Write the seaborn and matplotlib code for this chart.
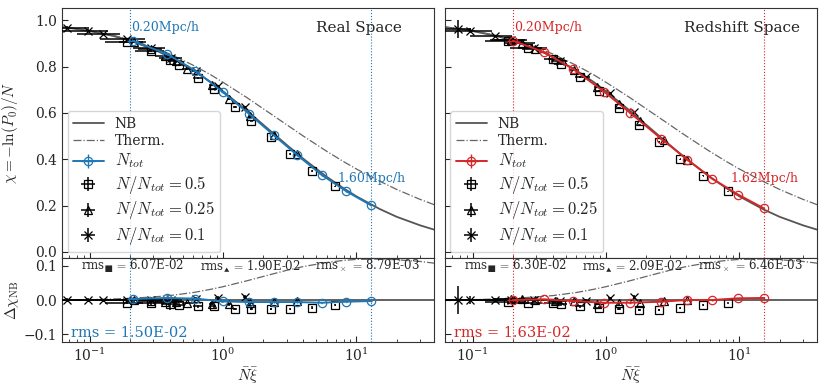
import numpy as np
import matplotlib
matplotlib.use('Agg')
import matplotlib.pyplot as plt
import seaborn as sns

# -------------------------
# model curves
# -------------------------
model_x = [0.06, 0.08, 0.1, 0.15, 0.2, 0.3, 0.4, 0.6, 0.8, 1.0, 1.5, 2, 3, 4,
           6, 8, 10, 15, 20, 30, 40]
nb_chi = [0.971, 0.962, 0.953, 0.932, 0.912, 0.875, 0.841, 0.783, 0.735, 0.693,
          0.611, 0.549, 0.462, 0.402, 0.324, 0.275, 0.240, 0.185, 0.152, 0.115, 0.093]
therm_chi = [0.972, 0.963, 0.955, 0.935, 0.916, 0.883, 0.854, 0.805, 0.766, 0.732,
             0.667, 0.618, 0.549, 0.500, 0.434, 0.390, 0.358, 0.305, 0.270, 0.227, 0.200]
therm_res = [0.001, 0.001, 0.001, 0.003, 0.005, 0.009, 0.013, 0.022, 0.031, 0.039,
             0.056, 0.069, 0.087, 0.098, 0.110, 0.116, 0.119, 0.120, 0.118, 0.113, 0.107]

# -------------------------
# Real space measurements
# -------------------------
real_tot_x = [0.21, 0.38, 0.62, 1.0, 1.56, 2.4, 3.6, 5.5, 8.4, 12.9]
real_tot_chi = [0.911, 0.854, 0.782, 0.689, 0.597, 0.504, 0.418, 0.332, 0.262, 0.201]
real_tot_res = [0.003, 0.006, 0.004, -0.004, -0.006, -0.006, -0.006, -0.008, -0.005, -0.003]
real_tot_xerr = [0.02, 0.02, 0.02, 0.03, 0.03, 0.04, 0.05, 0.06, 0.08, 0.1]
real_tot_yerr = [0.002, 0.002, 0.002, 0.002, 0.002, 0.002, 0.002, 0.002, 0.002, 0.002]

real_h_x = [0.19, 0.29, 0.40, 0.47, 0.65, 0.85, 1.23, 1.63, 2.27, 3.2, 4.65, 6.95]
real_h_chi = [0.908, 0.868, 0.828, 0.805, 0.752, 0.705, 0.626, 0.566, 0.495, 0.422, 0.350, 0.283]
real_h_res = [-0.008, -0.010, -0.013, -0.015, -0.018, -0.019, -0.026, -0.027, -0.027,
              -0.026, -0.022, -0.015]
real_h_xerr = [0.06, 0.07, 0.06, 0.05, 0.05, 0.04, 0.04, 0.04, 0.04, 0.04, 0.04, 0.04]
real_h_yerr = [0.004, 0.004, 0.015, 0.004, 0.004, 0.004, 0.003, 0.003, 0.003, 0.003, 0.003, 0.003]

real_q_x = [0.215, 0.29, 0.37, 0.44, 0.54, 0.82, 1.11, 1.6, 2.4, 3.6]
real_q_chi = [0.905, 0.875, 0.845, 0.822, 0.791, 0.719, 0.660, 0.587, 0.504, 0.421]
real_q_res = [-0.001, -0.003, -0.006, -0.007, -0.009, -0.011, -0.013, -0.010, -0.006, -0.003]
real_q_xerr = [0.05, 0.06, 0.06, 0.05, 0.05, 0.04, 0.04, 0.04, 0.04, 0.04]
real_q_yerr = [0.005, 0.005, 0.005, 0.005, 0.004, 0.004, 0.004, 0.004, 0.004, 0.004]

real_t_x = [0.068, 0.097, 0.125, 0.19, 0.29, 0.41, 0.63, 0.91, 1.45]
real_t_chi = [0.968, 0.955, 0.941, 0.917, 0.878, 0.838, 0.779, 0.717, 0.627]
real_t_res = [0.000, 0.000, -0.001, 0.001, 0.000, 0.000, 0.003, 0.006, 0.009]
real_t_xerr = [0.03, 0.04, 0.045, 0.07, 0.08, 0.08, 0.05, 0.04, 0.03]
real_t_yerr = [0.006, 0.005, 0.005, 0.005, 0.005, 0.005, 0.005, 0.005, 0.005]

# -------------------------
# Redshift space measurements
# -------------------------
red_tot_x = [0.20, 0.34, 0.565, 0.966, 1.52, 2.59, 4.06, 6.28, 9.76, 15.3]
red_tot_chi = [0.912, 0.863, 0.790, 0.692, 0.600, 0.489, 0.399, 0.316, 0.248, 0.188]
red_tot_res = [0.000, 0.002, -0.003, -0.008, -0.008, -0.005, 0.000, 0.000, 0.005, 0.006]
red_tot_xerr = [0.02, 0.02, 0.02, 0.03, 0.03, 0.04, 0.05, 0.06, 0.08, 0.1]
red_tot_yerr = [0.002, 0.002, 0.002, 0.002, 0.002, 0.002, 0.002, 0.002, 0.002, 0.002]

red_h_x = [0.184, 0.26, 0.40, 0.46, 0.635, 0.887, 1.25, 1.78, 2.48, 3.61, 5.37, 8.2]
red_h_chi = [0.912, 0.881, 0.831, 0.810, 0.756, 0.693, 0.623, 0.546, 0.475, 0.400, 0.330, 0.261]
red_h_res = [-0.006, -0.008, -0.010, -0.013, -0.018, -0.023, -0.026, -0.028, -0.028,
             -0.023, -0.015, -0.010]
red_h_xerr = [0.06, 0.07, 0.06, 0.05, 0.05, 0.04, 0.04, 0.04, 0.04, 0.04, 0.04, 0.04]
red_h_yerr = [0.004, 0.004, 0.006, 0.004, 0.004, 0.004, 0.003, 0.003, 0.003, 0.003, 0.003, 0.003]

red_q_x = [0.195, 0.236, 0.293, 0.415, 0.578, 0.849, 1.25, 1.80, 2.70, 4.06]
red_q_chi = [0.916, 0.902, 0.877, 0.833, 0.785, 0.713, 0.639, 0.564, 0.482, 0.399]
red_q_res = [0.002, 0.004, 0.000, -0.003, -0.004, -0.011, -0.010, -0.008, -0.003, 0.000]
red_q_xerr = [0.05, 0.06, 0.06, 0.05, 0.05, 0.04, 0.04, 0.04, 0.04, 0.04]
red_q_yerr = [0.005, 0.005, 0.005, 0.005, 0.004, 0.004, 0.004, 0.004, 0.004, 0.004]

red_t_x = [0.078, 0.095, 0.146, 0.195, 0.29, 0.45, 0.71, 1.07, 1.61]
red_t_chi = [0.963, 0.955, 0.933, 0.915, 0.879, 0.823, 0.753, 0.685, 0.605]
red_t_res = [0.000, 0.000, 0.000, 0.001, 0.001, -0.003, -0.003, 0.005, 0.009]
red_t_xerr = [0.02, 0.045, 0.05, 0.06, 0.07, 0.06, 0.05, 0.04, 0.03]
red_t_yerr = [0.04, 0.012, 0.005, 0.005, 0.005, 0.005, 0.005, 0.005, 0.005]

# scale markers and rms labels
panels = [
    dict(name="Real Space", color="tab:blue", scale_lo=0.2, scale_hi=12.9,
         lo_label="0.20Mpc/h", hi_label="1.60Mpc/h",
         rms=["6.07E-02", "1.90E-02", "8.79E-03"], rms_tot="1.50E-02",
         tot=(real_tot_x, real_tot_chi, real_tot_res, real_tot_xerr, real_tot_yerr),
         half=(real_h_x, real_h_chi, real_h_res, real_h_xerr, real_h_yerr),
         quarter=(real_q_x, real_q_chi, real_q_res, real_q_xerr, real_q_yerr),
         tenth=(real_t_x, real_t_chi, real_t_res, real_t_xerr, real_t_yerr)),
    dict(name="Redshift Space", color="tab:red", scale_lo=0.2, scale_hi=15.3,
         lo_label="0.20Mpc/h", hi_label="1.62Mpc/h",
         rms=["6.30E-02", "2.09E-02", "6.46E-03"], rms_tot="1.63E-02",
         tot=(red_tot_x, red_tot_chi, red_tot_res, red_tot_xerr, red_tot_yerr),
         half=(red_h_x, red_h_chi, red_h_res, red_h_xerr, red_h_yerr),
         quarter=(red_q_x, red_q_chi, red_q_res, red_q_xerr, red_q_yerr),
         tenth=(red_t_x, red_t_chi, red_t_res, red_t_xerr, red_t_yerr)),
]

# -------------------------
# Plotting
# -------------------------
sns.set_style("ticks")
plt.rcParams['font.family'] = ['DejaVu Serif']
plt.rcParams['mathtext.fontset'] = 'cm'
plt.rcParams['font.size'] = 10
plt.rcParams['xtick.direction'] = 'in'
plt.rcParams['ytick.direction'] = 'in'
plt.rcParams['axes.edgecolor'] = '#333333'

fig, axes = plt.subplots(2, 2, figsize=(8.3, 3.88), dpi=100, sharex=True, sharey='row',
                         gridspec_kw=dict(height_ratios=[250, 84]))
fig.subplots_adjust(left=0.0747, right=0.984, top=0.979, bottom=0.1186,
                    hspace=0, wspace=0.03)

markers = [("half", "s", r"$N/N_{tot}=0.5$"),
           ("quarter", "^", r"$N/N_{tot}=0.25$"),
           ("tenth", "x", r"$N/N_{tot}=0.1$")]

for col, p in enumerate(panels):
    ax, rax = axes[0, col], axes[1, col]
    c = p["color"]
    for a in (ax, rax):
        a.set_xscale('log')
        a.axvline(p["scale_lo"], color=c, ls=':', lw=0.8)
        a.axvline(p["scale_hi"], color=c, ls=':', lw=0.8)

    sns.lineplot(x=model_x, y=nb_chi, ax=ax, color='#555555', lw=1.3, label="NB")
    sns.lineplot(x=model_x, y=therm_chi, ax=ax, color='#666666', lw=0.9, ls='-.',
                 label="Therm.")
    rax.axhline(0, color='#555555', lw=1.3)
    sns.lineplot(x=model_x, y=therm_res, ax=rax, color='#666666', lw=0.9, ls='-.')

    x, y, r, xe, ye = p["tot"]
    ax.errorbar(x, y, xerr=xe, yerr=ye, fmt='o-', color=c, mfc='none', ms=6, mew=0.9,
                lw=1.4, elinewidth=1, capsize=0, label=r"$N_{tot}$", zorder=4)
    rax.errorbar(x, r, xerr=xe, yerr=ye, fmt='o-', color=c, mfc='none', ms=6, mew=0.9,
                 lw=1.4, elinewidth=1, capsize=0, zorder=4)

    for key, m, lab in markers:
        x, y, r, xe, ye = p[key]
        kw = dict(fmt=m, mfc='none', mec='k', ecolor='k', ms=6, mew=0.9,
                  elinewidth=1.1, capsize=0, zorder=3)
        ax.errorbar(x, y, xerr=xe, yerr=ye, label=lab, **kw)
        rax.errorbar(x, r, xerr=xe, yerr=ye, **kw)

    ax.text(p["scale_lo"] * 1.03, 0.97, p["lo_label"], color=c, fontsize=9,
            ha='left', va='center')
    ax.text(p["scale_hi"], 0.315, p["hi_label"], color=c, fontsize=9,
            ha='center', va='center')
    ax.text(0.8, 0.92, p["name"], transform=ax.transAxes, fontsize=11,
            ha='center', va='center')

    h, l = ax.get_legend_handles_labels()
    order = [l.index(s) for s in ["NB", "Therm.", r"$N_{tot}$"] + [m[2] for m in markers]]
    leg = ax.legend([h[i] for i in order], [l[i] for i in order], loc='lower left',
                    fontsize=10, frameon=True, framealpha=0.8, edgecolor='#cccccc',
                    handlelength=2.2, labelspacing=0.25, borderaxespad=0.4)
    for t in leg.get_texts():
        if t.get_text().startswith('$'):
            t.set_fontsize(12)

    rms_syms = [r"$_\blacksquare$", r"$_\blacktriangle$", r"$_\times$"]
    for xf, s, v in zip([0.05, 0.37, 0.68], rms_syms, p["rms"]):
        rax.text(xf, 0.905, "rms" + s + r"$\,=\,$" + v, transform=rax.transAxes,
                 fontsize=8.5, ha='left', va='center')
    rax.text(0.025, 0.11, "rms = " + p["rms_tot"], transform=rax.transAxes,
             color=c, fontsize=10.5, ha='left', va='center')

    rax.set_xlabel(r"$\bar{N}\bar{\xi}$", fontsize=11, labelpad=1)
    for a in (ax, rax):
        a.tick_params(which='both', direction='in', labelsize=10)
        a.tick_params(which='major', length=4)
        a.tick_params(which='minor', length=2)

axes[0, 0].set_xlim(0.062, 38)
axes[0, 0].set_ylim(-0.026, 1.052)
axes[0, 0].set_yticks([0.0, 0.2, 0.4, 0.6, 0.8, 1.0])
axes[1, 0].set_ylim(-0.123, 0.123)
axes[1, 0].set_yticks([-0.1, 0.0, 0.1])
axes[0, 0].set_ylabel(r"$\chi = -\ln(P_0)/\bar{N}$", fontsize=11, labelpad=2)
axes[1, 0].set_ylabel(r"$\Delta\chi_{\rm NB}$", fontsize=11, labelpad=2)
axes[1, 1].tick_params(labelleft=False)
axes[0, 1].tick_params(labelleft=False)
fig.align_ylabels(axes[:, 0])

fig.savefig("out.png", dpi=100)
